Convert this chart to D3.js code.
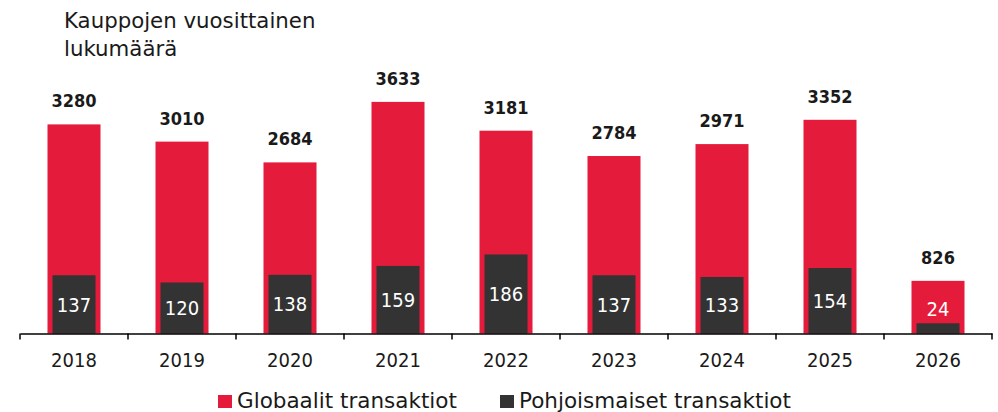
<!DOCTYPE html>
<html><head><meta charset="utf-8">
<script src="https://cdn.jsdelivr.net/npm/d3@7"></script>
<style>
body{margin:0;background:#fff;}
svg{display:block;font-family:"DejaVu Sans Condensed","DejaVu Sans",sans-serif;}
</style></head><body>
<svg id="chart" width="998" height="412"></svg>
<script>
const years = ["2018","2019","2020","2021","2022","2023","2024","2025","2026"];
const globalDeals = [3280,3010,2684,3633,3181,2784,2971,3352,826];
const nordicDeals = [137,120,138,159,186,137,133,154,24];
const seriesNames = ["Globaalit transaktiot","Pohjoismaiset transaktiot"];
const titleLines = ["Kauppojen vuosittainen","lukumäärä"];

const RED = "#E51B3B", DARK = "#333333", TEXT = "#1a1a1a";
const WIDE = "\"DejaVu Sans\",sans-serif";
const svg = d3.select("#chart");
const axisY = 333.5, topY = 78.5;
const x = d3.scaleBand().domain(years).range([20, 992]).padding(0);
const yG = d3.scaleLinear().domain([0, 4000]).range([axisY, topY]);
const yN = d3.scaleLinear().domain([0, 600]).range([axisY, topY]);

const redW = 53, darkW = 43;
const data = years.map((y,i)=>({year:y, g:globalDeals[i], n:nordicDeals[i]}));

// title
svg.append("text").attr("x",64).attr("y",28).attr("font-size",21.3)
  .attr("font-family",WIDE).attr("fill",TEXT)
  .selectAll("tspan").data(titleLines).join("tspan")
  .attr("x",64).attr("dy",(d,i)=>i?28:0).text(d=>d);

// red bars
svg.append("g").selectAll("rect").data(data).join("rect")
  .attr("x",d=>x(d.year)+x.bandwidth()/2-redW/2)
  .attr("y",d=>yG(d.g)).attr("width",redW)
  .attr("height",d=>axisY-yG(d.g)).attr("fill",RED);

// dark bars
svg.append("g").selectAll("rect").data(data).join("rect")
  .attr("x",d=>x(d.year)+x.bandwidth()/2-darkW/2)
  .attr("y",d=>yN(d.n)).attr("width",darkW)
  .attr("height",d=>axisY-yN(d.n)).attr("fill",DARK);

// total labels
svg.append("g").selectAll("text").data(data).join("text")
  .attr("x",d=>x(d.year)+x.bandwidth()/2)
  .attr("y",d=>yG(d.g)-17)
  .attr("text-anchor","middle").attr("font-size",18).attr("font-weight","bold")
  .attr("fill",TEXT).text(d=>d.g);

// nordic labels
svg.append("g").selectAll("text").data(data).join("text")
  .attr("x",d=>x(d.year)+x.bandwidth()/2)
  .attr("y",d=>Math.min((yN(d.n)+axisY)/2, axisY-25))
  .attr("dy","0.36em")
  .attr("text-anchor","middle").attr("font-size",20)
  .attr("fill","#ffffff").text(d=>d.n);

// axis
const ax = svg.append("g").attr("transform",`translate(0,${axisY})`)
  .call(d3.axisBottom(x).tickSize(0).tickPadding(19));
ax.select(".domain").attr("stroke","#000").attr("stroke-width",1.5);
ax.selectAll("text").attr("font-size",20).attr("fill",TEXT)
  .attr("font-family","\"DejaVu Sans Condensed\",\"DejaVu Sans\",sans-serif");
const edges = years.map(y=>x(y)).concat([x.range()[1]]);
ax.append("g").selectAll("line").data(edges).join("line")
  .attr("x1",d=>d).attr("x2",d=>d).attr("y1",0).attr("y2",6)
  .attr("stroke","#000").attr("stroke-width",1.5);

// legend
const legX = [218, 500], legColors = [RED, DARK];
const leg = svg.append("g").selectAll("g").data(seriesNames).join("g")
  .attr("transform",(d,i)=>`translate(${legX[i]},395)`);
leg.append("rect").attr("width",14).attr("height",13).attr("fill",(d,i)=>legColors[i]);
leg.append("text").attr("x",19).attr("y",13).attr("font-size",21.5)
  .attr("font-family",WIDE).attr("fill",TEXT).text(d=>d);
</script></body></html>
